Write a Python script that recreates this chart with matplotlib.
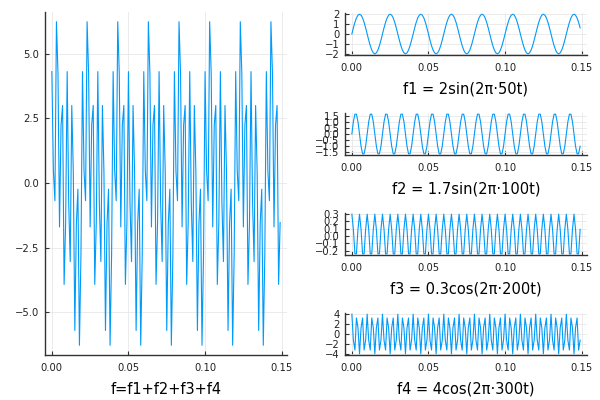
import matplotlib
matplotlib.use("Agg")
import matplotlib.pyplot as plt
import numpy as np

plt.rcParams["font.family"] = ["DejaVu Sans"]
plt.rcParams["axes.unicode_minus"] = True

# sampled at 1 kHz, 150 samples (t = 0 ... 0.149 s)
N_SAMPLES = 150
DT = 0.001

# one period of samples for each component
f1_period = [0.0, 0.618, 1.1756, 1.618, 1.9021, 2.0, 1.9021, 1.618, 1.1756, 0.618,
             0.0, -0.618, -1.1756, -1.618, -1.9021, -2.0, -1.9021, -1.618, -1.1756, -0.618]
f2_period = [0.0, 0.9992, 1.6168, 1.6168, 0.9992, 0.0, -0.9992, -1.6168, -1.6168, -0.9992]
f3_period = [0.3, 0.0927, -0.2427, -0.2427, 0.0927]
f4_period = [4.0, -1.2361, -3.2361, 3.2361, 1.2361, -4.0, 1.2361, 3.2361, -3.2361, -1.2361]

labels = ["f1 = 2sin(2π·50t)", "f2 = 1.7sin(2π·100t)",
          "f3 = 0.3cos(2π·200t)", "f4 = 4cos(2π·300t)"]
main_label = "f=f1+f2+f3+f4"

x_ticks = [0.0, 0.05, 0.10, 0.15]
main_yticks = [-5.0, -2.5, 0.0, 2.5, 5.0]
sub_yticks = [
    [-2, -1, 0, 1, 2],
    [-1.5, -1.0, -0.5, 0.0, 0.5, 1.0, 1.5],
    [-0.2, -0.1, 0.0, 0.1, 0.2, 0.3],
    [-4, -2, 0, 2, 4],
]

t = np.arange(N_SAMPLES) * DT
f1 = np.resize(f1_period, N_SAMPLES)
f2 = np.resize(f2_period, N_SAMPLES)
f3 = np.resize(f3_period, N_SAMPLES)
f4 = np.resize(f4_period, N_SAMPLES)
f = f1 + f2 + f3 + f4

LINE = "#009AFA"
SPINE = "#333333"


def style(ax, yticks, int_fmt=False):
    ax.margins(x=0.03, y=0.03)
    for side in ("top", "right"):
        ax.spines[side].set_visible(False)
    for side in ("left", "bottom"):
        ax.spines[side].set_color(SPINE)
        ax.spines[side].set_linewidth(1.0)
    ax.grid(True, color="#e8e8e8", linewidth=0.6)
    ax.set_axisbelow(True)
    ax.set_xticks(x_ticks)
    ax.set_xticklabels([f"{v:.2f}" for v in x_ticks])
    ax.set_yticks(yticks)
    if int_fmt:
        ax.set_yticklabels([f"{v:d}".replace("-", "\u2212") for v in yticks])
    else:
        ax.set_yticklabels([f"{v:.1f}".replace("-", "\u2212") for v in yticks])
    ax.tick_params(direction="in", length=3, width=0.8, color=SPINE,
                   labelsize=7.2, labelcolor="#222222")
    ax.tick_params(axis="x", pad=6)
    ax.tick_params(axis="y", pad=4)


fig = plt.figure(figsize=(6, 4), dpi=100)

ax_main = fig.add_axes([0.075, 0.1125, 0.4033, 0.8575])
ax_main.plot(t, f, color=LINE, linewidth=0.8)
style(ax_main, main_yticks)
ax_main.set_xlabel(main_label, fontsize=10.5, labelpad=6)

series = [f1, f2, f3, f4]
bottoms = [0.8625, 0.6125, 0.3625, 0.1125]
for i, (y, lab, yt, b) in enumerate(zip(series, labels, sub_yticks, bottoms)):
    ax = fig.add_axes([0.575, b, 0.4033, 0.105])
    ax.plot(t, y, color=LINE, linewidth=0.8)
    style(ax, yt, int_fmt=(i in (0, 3)))
    ax.set_xlabel(lab, fontsize=10.5, labelpad=6)

fig.savefig("out.png", dpi=100)
